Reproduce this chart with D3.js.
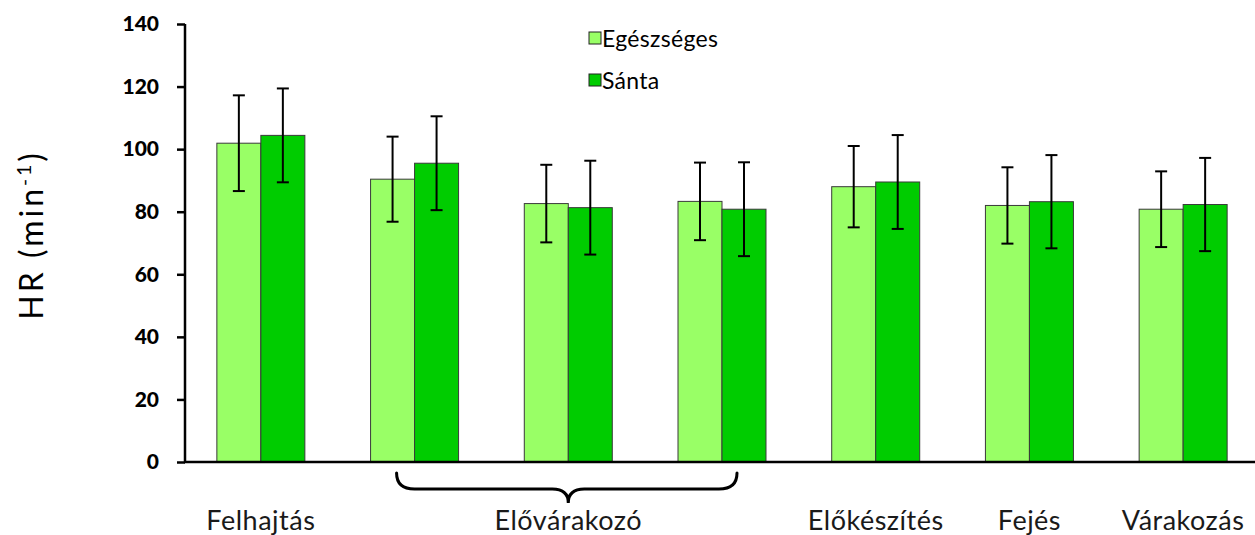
<!DOCTYPE html>
<html>
<head>
<meta charset="utf-8">
<script src="https://cdn.jsdelivr.net/npm/d3@7"></script>
<style>
  html, body { margin: 0; padding: 0; background: #fff; }
  svg { display: block; }
</style>
</head>
<body>
<svg id="chart" width="1255" height="535"></svg>
<script>
// ---- Data ----
const categories = ["Felhajtás", "Elővárakozó 1", "Elővárakozó 2", "Elővárakozó 3", "Előkészítés", "Fejés", "Várakozás"];
const seriesNames = ["Egészséges", "Sánta"];
const healthyMeans = [101.9, 90.4, 82.6, 83.3, 88.0, 82.0, 80.8];
const healthySD    = [15.3, 13.6, 12.4, 12.4, 13.0, 12.2, 12.1];
const lameMeans    = [104.4, 95.5, 81.3, 80.8, 89.5, 83.2, 82.3];
const lameSD       = [15.0, 15.0, 15.0, 15.0, 15.0, 14.9, 14.9];
const yTicks = [0, 20, 40, 60, 80, 100, 120, 140];
const bottomLabels = [
  { text: "Felhajtás", from: 0, to: 0 },
  { text: "Elővárakozó", from: 1, to: 3, brace: true },
  { text: "Előkészítés", from: 4, to: 4 },
  { text: "Fejés", from: 5, to: 5 },
  { text: "Várakozás", from: 6, to: 6 }
];
const colors = ["#99FF66", "#00CC00"];
const yLabel = "HR (min";

// ---- Layout ----
const svg = d3.select("#chart");
const x0 = 184, x1 = 1260, yTop = 24, yBottom = 462;
const font = "Lato, 'Open Sans', 'DejaVu Sans', sans-serif";

const x = d3.scaleBand().domain(categories).range([x0, x1]).paddingInner(0).paddingOuter(0);
const barW = 44;
const y = d3.scaleLinear().domain([0, 140]).range([yBottom, yTop]);

const seriesData = [
  { name: seriesNames[0], means: healthyMeans, sd: healthySD, color: colors[0] },
  { name: seriesNames[1], means: lameMeans, sd: lameSD, color: colors[1] }
];

// bars
seriesData.forEach((s, si) => {
  const g = svg.append("g");
  g.selectAll("rect").data(categories).join("rect")
    .attr("x", c => x(c) + x.bandwidth() / 2 + (si - 1) * barW)
    .attr("y", (c, i) => y(s.means[i]))
    .attr("width", barW)
    .attr("height", (c, i) => y(0) - y(s.means[i]))
    .attr("fill", s.color)
    .attr("stroke", "#3a3a3a")
    .attr("stroke-width", 1);
});

// error bars
seriesData.forEach((s, si) => {
  const g = svg.append("g").attr("stroke", "#000").attr("stroke-width", 2);
  categories.forEach((c, i) => {
    const cx = x(c) + x.bandwidth() / 2 + (si - 0.5) * barW;
    const hi = y(s.means[i] + s.sd[i]), lo = y(s.means[i] - s.sd[i]);
    g.append("line").attr("x1", cx).attr("x2", cx).attr("y1", hi).attr("y2", lo);
    g.append("line").attr("x1", cx - 6).attr("x2", cx + 6).attr("y1", hi).attr("y2", hi);
    g.append("line").attr("x1", cx - 6).attr("x2", cx + 6).attr("y1", lo).attr("y2", lo);
  });
});

// y axis
const yAxis = svg.append("g")
  .attr("transform", `translate(${185},0)`)
  .call(d3.axisLeft(y).tickValues(yTicks).tickSize(8).tickPadding(18).tickSizeOuter(0));
yAxis.select(".domain").attr("stroke", "#000").attr("stroke-width", 2.5)
  .attr("d", `M0,${yTop}V${yBottom}`);
yAxis.selectAll(".tick line").attr("stroke", "#000").attr("stroke-width", 2.5);
yAxis.selectAll(".tick text")
  .attr("fill", "#000")
  .style("font-family", font)
  .style("font-size", "21px")
  .style("font-weight", "900");

// x axis line
svg.append("line")
  .attr("x1", 184).attr("x2", 1255)
  .attr("y1", yBottom).attr("y2", yBottom)
  .attr("stroke", "#000").attr("stroke-width", 2.5);

// bottom labels and brace
bottomLabels.forEach(l => {
  const left = x(categories[l.from]) + x.bandwidth() / 2;
  const right = x(categories[l.to]) + x.bandwidth() / 2;
  const cx = (left + right) / 2;
  svg.append("text")
    .attr("x", cx).attr("y", 530)
    .attr("text-anchor", "middle")
    .attr("fill", "#1a1a1a")
    .style("font-family", font)
    .style("font-size", "27px")
    .style("letter-spacing", "0.5px")
    .text(l.text);
  if (l.brace) {
    const bl = left - 18, br = right + 15, top = 473, mid = 489, tip = 503;
    const p = d3.path();
    p.moveTo(bl, top);
    p.quadraticCurveTo(bl, mid, bl + 18, mid);
    p.lineTo(cx - 16, mid);
    p.quadraticCurveTo(cx, mid, cx, tip);
    p.quadraticCurveTo(cx, mid, cx + 16, mid);
    p.lineTo(br - 18, mid);
    p.quadraticCurveTo(br, mid, br, top);
    svg.append("path").attr("d", p.toString())
      .attr("fill", "none").attr("stroke", "#000").attr("stroke-width", 3)
      .attr("stroke-linecap", "round");
  }
});

// legend
const legend = svg.append("g").attr("transform", "translate(589,32)");
seriesData.forEach((s, i) => {
  const g = legend.append("g").attr("transform", `translate(0,${i * 42})`);
  g.append("rect").attr("width", 12).attr("height", 12)
    .attr("fill", s.color).attr("stroke", "#222").attr("stroke-width", 1);
  g.append("text").attr("x", 13).attr("y", 15)
    .attr("fill", "#000")
    .style("font-family", font)
    .style("font-size", "23px")
    .style("letter-spacing", "0.3px")
    .text(s.name);
});

// y label
const yl = svg.append("text")
  .attr("transform", "translate(43,235) rotate(-90)")
  .attr("text-anchor", "middle")
  .attr("fill", "#000")
  .style("font-family", font)
  .style("font-size", "32px")
  .style("letter-spacing", "3px");
yl.append("tspan").text(yLabel);
yl.append("tspan").attr("dy", -12).style("font-size", "19px").text("-1");
yl.append("tspan").attr("dy", 12).text(")");
</script>
</body>
</html>
